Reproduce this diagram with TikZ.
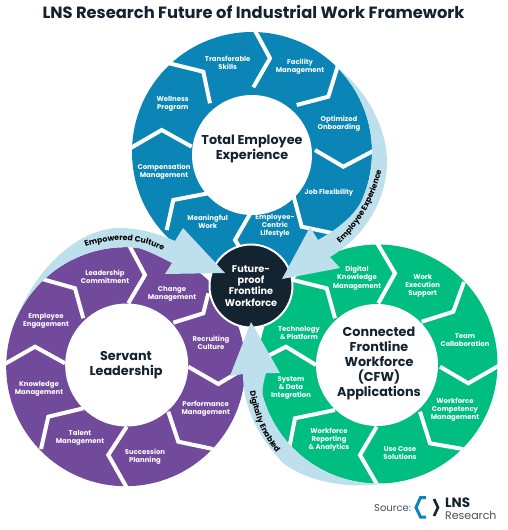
\documentclass[tikz,border=0pt]{standalone}
\usepackage{fontspec}
\setmainfont{Poppins}
\usetikzlibrary{decorations.text}
\definecolor{cblue}{HTML}{0A85B6}
\definecolor{cpurple}{HTML}{714A9C}
\definecolor{cgreen}{HTML}{00BE80}
\definecolor{clight}{HTML}{BEDFEC}
\definecolor{cdark}{HTML}{13232F}
\definecolor{cgray}{HTML}{4A5258}
\tikzset{
  x=1pt,y=-1pt,
  sep/.style={draw=white,line width=4pt,miter limit=10},
  lbl/.style={text=white,font=\fontsize{6.9}{8.2}\selectfont\bfseries,align=center,inner sep=0pt},
  hub/.style={text=cdark,font=\fontsize{12.8}{15}\selectfont\bfseries,align=center,inner sep=0pt},
  sweep/.style={fill=clight,draw=none},
  curved/.style={decorate,decoration={text along path,text align=center,raise=0pt,text={|\fontsize{7.8}{9}\selectfont\bfseries|#1}}},
}
\begin{document}
\begin{tikzpicture}
\useasboundingbox (0,0) rectangle (507,530);
\fill[white] (0,0) rectangle (507,530);
\node[inner sep=0pt,text=cdark,font=\fontsize{16.3}{18}\selectfont\bfseries] (title) at (253.5,12) {LNS Research Future of Industrial Work Framework};
% discs
\fill[cblue] (252,152) circle[radius=120pt];
\fill[cpurple] (125.7,366.7) circle[radius=119.5pt];
\fill[cgreen] (378,364) circle[radius=119.5pt];
% blue separators
\draw[sep] (252,25) -- (270,58.3) -- (253.3,87.3);
\draw[sep] (339,62) -- (328.3,96.7) -- (296.7,105);
\draw[sep] (375,150) -- (343.3,166.7) -- (315,150);
\draw[sep] (293.3,195) -- (301.7,226.7) -- (333.3,233.3);
\draw[sep] (253.3,208.3) -- (235,240) -- (251.7,266.7);
\draw[sep] (208.3,193.3) -- (173.3,200) -- (166.7,230);
\draw[sep] (191.7,146.7) -- (161.7,130) -- (129,149);
\draw[sep] (168,63) -- (203.3,71.7) -- (210,103.3);
% purple separators
\draw[sep] (129,245) -- (145,275) -- (128.3,303.3);
\draw[sep] (208.3,293.3) -- (203.3,313.3) -- (173.3,322.7);
\draw[sep] (247,367) -- (218.3,384) -- (188.3,366.7);
\draw[sep] (168.3,411.7) -- (178.3,441.7) -- (213,449);
\draw[sep] (126.7,426.7) -- (108.3,455) -- (127,488);
\draw[sep] (83.3,408.3) -- (48.3,416.7) -- (41,449);
\draw[sep] (65,363.3) -- (35,346.7) -- (3,365);
\draw[sep] (42,279) -- (75,288.3) -- (83.3,318.3);
% green separators
\draw[sep] (376.5,242) -- (395,273.3) -- (378.3,303.3);
\draw[sep] (464,282) -- (453.3,311.7) -- (421.7,321.7);
\draw[sep] (500,365) -- (468.3,383.3) -- (440,366.7);
\draw[sep] (420,411.7) -- (430,443.3) -- (463,449);
\draw[sep] (376.7,426.7) -- (360,455) -- (378,486);
\draw[sep] (335,410) -- (295,418.3) -- (289,449);
\draw[sep] (316,365) -- (286,346.7) -- (268,356);
\draw[sep] (291,279.5) -- (326.7,288.3) -- (335,318.3);
% inner white discs
\fill[white] (252,155) circle[radius=60pt];
\fill[white] (126.7,365) circle[radius=61.5pt];
\fill[white] (377,365) circle[radius=61pt];
% core
\fill[cdark,draw=white,line width=2pt] (251,286) circle[radius=41.5pt];
% sweeps
\fill[sweep] (336.85,67.15) arc[start angle=45,end angle=-25,radius=120pt]
  .. controls (349,222) and (330,233) .. (318,240) -- (310,227) -- (282,279) -- (340,268) -- (330,257)
  .. controls (362,238) and (385,205) .. (387,165) .. controls (388,135) and (372,95) .. cycle;
\fill[sweep] (16.5,318.1) arc[start angle=156,end angle=85,radius=119.5pt]
  .. controls (145,249) and (160,257) .. (172,263) -- (165,274) -- (225,273) -- (183,228) -- (175,241)
  .. controls (155,232) and (135,228) .. (120,228) .. controls (80,228) and (38,265) .. cycle;
\fill[sweep] (386.3,483.2) arc[start angle=-86,end angle=-165,radius=119.5pt]
  .. controls (262,388) and (264,380) .. (266,373) -- (280,373) -- (251,322) -- (230,376) -- (243,374)
  .. controls (243,400) and (252,430) .. (283,463) .. controls (305,480) and (345,490) .. cycle;
% curved captions
\path[curved={Employee Experience}] (334,248) .. controls (358,230) and (376,200) .. (383,163);
\path[curved={Empowered Culture}] (78,250) .. controls (105,237) and (142,236) .. (170,255);
\path[curved={Digitally Enabled}] (249,385) .. controls (253,415) and (263,439) .. (281,458);
% hubs
\node[hub] (hubA) at (252,149) {Total Employee\\Experience};
\node[hub] (hubB) at (126,365) {Servant\\Leadership};
\node[hub] (hubC) at (379,363) {Connected\\Frontline\\Workforce\\(CFW)\\Applications};
\node[text=white,font=\fontsize{9.7}{11.2}\selectfont\bfseries,align=center,inner sep=0pt] (core) at (251,286) {Future-\\proof\\Frontline\\Workforce};
% blue labels
\node[lbl] (a1) at (227.7,62.7) {Transferable\\Skills};
\node[lbl] (a2) at (300,66.7) {Facility\\Management};
\node[lbl] (a3) at (339,124) {Optimized\\Onboarding};
\node[lbl] (a4) at (329,193) {Job Flexibility};
\node[lbl] (a5) at (275,226) {Employee-\\Centric\\Lifestyle};
\node[lbl] (a6) at (207.7,221.7) {Meaningful\\Work};
\node[lbl] (a7) at (164,172) {Compensation\\Management};
\node[lbl] (a8) at (172.7,104) {Wellness\\Program};
% purple labels
\node[lbl] (b1) at (105,277) {Leadership\\Commitment};
\node[lbl] (b2) at (172,294) {Change\\Management};
\node[lbl] (b3) at (211,343) {Recruiting\\Culture};
\node[lbl] (b4) at (205.7,409) {Performance\\Management};
\node[lbl] (b5) at (145,456.7) {Succession\\Planning};
\node[lbl] (b6) at (80,438) {Talent\\Management};
\node[lbl] (b7) at (39,389) {Knowledge\\Management};
\node[lbl] (b8) at (46,321) {Employee\\Engagement};
% green labels
\node[lbl] (c1) at (357,278) {Digital\\Knowledge\\Management};
\node[lbl] (c2) at (422.7,286) {Work\\Execution\\Support};
\node[lbl] (c3) at (465,340) {Team\\Collaboration};
\node[lbl] (c4) at (455,410) {Workforce\\Competency\\Management};
\node[lbl] (c5) at (400,453) {Use Case\\Solutions};
\node[lbl] (c6) at (329,440) {Workforce\\Reporting\\\& Analytics};
\node[lbl] (c7) at (291,388) {System\\\& Data\\Integration};
\node[lbl] (c8) at (299,333) {Technology\\\& Platform};
% source
\node[anchor=west,inner sep=0pt,text=cgray,font=\fontsize{10}{11}\selectfont] (src) at (374,508) {Source:};
\draw[cblue,line width=3pt,miter limit=10] (426,497.5) -- (420.5,497.5) -- (416,507.5) -- (420.5,517) -- (426,517);
\draw[cdark,line width=2.6pt,miter limit=10] (434,499) -- (438,507.5) -- (434,516);
\node[anchor=west,inner sep=0pt,text=cdark,font=\fontsize{13.5}{14}\selectfont\bfseries] (lns) at (445,503) {LNS};
\node[anchor=west,inner sep=0pt,text=cgray,font=\fontsize{11}{12}\selectfont] (res) at (445,515.5) {Research};
\end{tikzpicture}
\end{document}
